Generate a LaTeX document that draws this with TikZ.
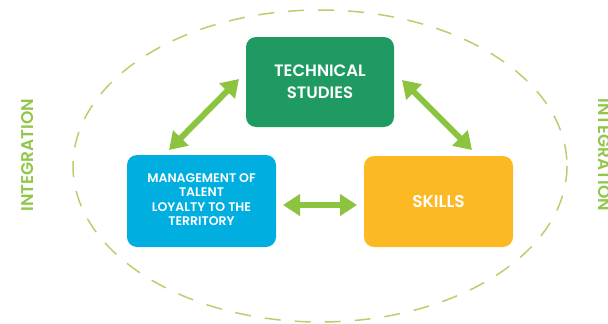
\documentclass[tikz,border=0pt]{standalone}
\usepackage{fontspec}
\setmainfont{Poppins}[BoldFont={Poppins SemiBold}]
\usetikzlibrary{arrows.meta}
\definecolor{techgreen}{HTML}{1F9A63}
\definecolor{talentblue}{HTML}{00AEE0}
\definecolor{skillyellow}{HTML}{FDB924}
\definecolor{arrowgreen}{HTML}{8CC43F}
\definecolor{dashgreen}{HTML}{B8D06C}
\definecolor{integgreen}{HTML}{92C64A}
\tikzset{
  box/.style={rounded corners=10pt, inner sep=0pt, text=white, font=\bfseries, align=center},
  biarrow/.style={arrowgreen, line width=6pt, {Triangle[width=21pt,length=17pt]}-{Triangle[width=21pt,length=17pt]}},
  integ/.style={text=integgreen, font=\fontsize{17}{17}\selectfont\bfseries, inner sep=0pt, anchor=base}
}
\begin{document}
\begin{tikzpicture}[x=1pt,y=-1pt]
\useasboundingbox (0,0) rectangle (608,324);
\draw[dashgreen, line width=1.5pt, dash pattern=on 16pt off 14pt] (320,166) ellipse [x radius=247, y radius=156];
\node[box, fill=techgreen, minimum width=148pt, minimum height=90pt, font=\fontsize{16.5}{22}\selectfont\bfseries] (tech) at (320,82) {TECHNICAL\\STUDIES};
\node[box, fill=talentblue, minimum width=149pt, minimum height=92pt, text depth=3pt, font=\fontsize{12.5}{14.5}\selectfont\bfseries] (talent) at (201.5,201) {MANAGEMENT OF\\TALENT\\LOYALTY TO THE\\TERRITORY};
\node[box, fill=skillyellow, minimum width=149pt, minimum height=91pt, font=\fontsize{17}{17}\selectfont\bfseries] (skills) at (438.5,201.5) {SKILLS};
\coordinate (a1) at (169,150);
\coordinate (a2) at (239,79);
\coordinate (b1) at (402,80);
\coordinate (b2) at (472,150);
\coordinate (c1) at (283,205);
\coordinate (c2) at (357,205);
\draw[biarrow] (a1) -- (a2);
\draw[biarrow] (b1) -- (b2);
\draw[biarrow] (c1) -- (c2);
\node[integ, rotate=90] (intl) at (33,155) {INTEGRATION};
\node[integ, rotate=-90] (intr) at (598,155) {INTEGRATION};
\end{tikzpicture}
\end{document}
